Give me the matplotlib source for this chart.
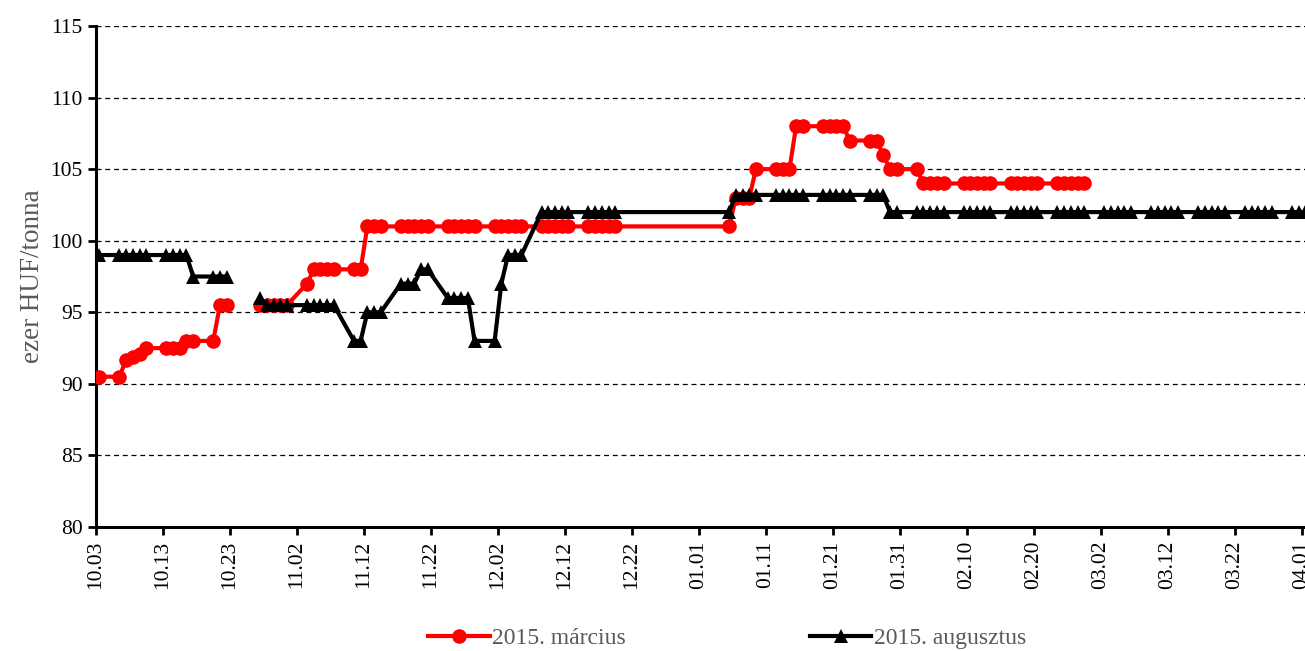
import matplotlib
matplotlib.use('Agg')
import matplotlib.pyplot as plt
import matplotlib.dates as mdates
import numpy as np
import pandas as pd
from matplotlib.lines import Line2D

plt.rcParams['font.family'] = ['Liberation Serif', 'DejaVu Serif']

# ---- data ----
marc_dates = [
    "2014-10-03", "2014-10-06", "2014-10-07", "2014-10-08", "2014-10-09", "2014-10-10",
    "2014-10-13", "2014-10-14", "2014-10-15", "2014-10-16", "2014-10-17",
    "2014-10-20", "2014-10-21", "2014-10-22", "2014-10-23",
    "2014-10-27", "2014-10-28", "2014-10-29", "2014-10-30", "2014-10-31",
    "2014-11-03", "2014-11-04", "2014-11-05", "2014-11-06", "2014-11-07",
    "2014-11-10", "2014-11-11", "2014-11-12", "2014-11-13", "2014-11-14",
    "2014-11-17", "2014-11-18", "2014-11-19", "2014-11-20", "2014-11-21",
    "2014-11-24", "2014-11-25", "2014-11-26", "2014-11-27", "2014-11-28",
    "2014-12-01", "2014-12-02", "2014-12-03", "2014-12-04", "2014-12-05",
    "2014-12-08", "2014-12-09", "2014-12-10", "2014-12-11", "2014-12-12",
    "2014-12-15", "2014-12-16", "2014-12-17", "2014-12-18", "2014-12-19",
    "2015-01-05", "2015-01-06", "2015-01-07", "2015-01-08", "2015-01-09",
    "2015-01-12", "2015-01-13", "2015-01-14", "2015-01-15", "2015-01-16",
    "2015-01-19", "2015-01-20", "2015-01-21", "2015-01-22", "2015-01-23",
    "2015-01-26", "2015-01-27", "2015-01-28", "2015-01-29", "2015-01-30",
    "2015-02-02", "2015-02-03", "2015-02-04", "2015-02-05", "2015-02-06",
    "2015-02-09", "2015-02-10", "2015-02-11", "2015-02-12", "2015-02-13",
    "2015-02-16", "2015-02-17", "2015-02-18", "2015-02-19", "2015-02-20",
    "2015-02-23", "2015-02-24", "2015-02-25", "2015-02-26", "2015-02-27",
]
marc_values = [
    90.5, 90.5, 91.7, 91.85, 92.1, 92.5,
    92.5, 92.5, 92.5, 93, 93,
    93, 95.5, 95.5, np.nan,
    95.5, 95.5, 95.5, 95.5, 95.5,
    97, 98, 98, 98, 98,
    98, 98, 101, 101, 101,
    101, 101, 101, 101, 101,
    101, 101, 101, 101, 101,
    101, 101, 101, 101, 101,
    101, 101, 101, 101, 101,
    101, 101, 101, 101, 101,
    101, 103, 103, 103, 105,
    105, 105, 105, 108, 108,
    108, 108, 108, 108, 107,
    107, 107, 106, 105, 105,
    105, 104, 104, 104, 104,
    104, 104, 104, 104, 104,
    104, 104, 104, 104, 104,
    104, 104, 104, 104, 104,
]

aug_dates = [
    "2014-10-03", "2014-10-06", "2014-10-07", "2014-10-08", "2014-10-09", "2014-10-10",
    "2014-10-13", "2014-10-14", "2014-10-15", "2014-10-16", "2014-10-17",
    "2014-10-20", "2014-10-21", "2014-10-22", "2014-10-23",
    "2014-10-27", "2014-10-28", "2014-10-29", "2014-10-30", "2014-10-31",
    "2014-11-03", "2014-11-04", "2014-11-05", "2014-11-06", "2014-11-07",
    "2014-11-10", "2014-11-11", "2014-11-12", "2014-11-13", "2014-11-14",
    "2014-11-17", "2014-11-18", "2014-11-19", "2014-11-20", "2014-11-21",
    "2014-11-24", "2014-11-25", "2014-11-26", "2014-11-27", "2014-11-28",
    "2014-12-01", "2014-12-02", "2014-12-03", "2014-12-04", "2014-12-05",
    "2014-12-08", "2014-12-09", "2014-12-10", "2014-12-11", "2014-12-12",
    "2014-12-15", "2014-12-16", "2014-12-17", "2014-12-18", "2014-12-19",
    "2015-01-05", "2015-01-06", "2015-01-07", "2015-01-08", "2015-01-09",
    "2015-01-12", "2015-01-13", "2015-01-14", "2015-01-15", "2015-01-16",
    "2015-01-19", "2015-01-20", "2015-01-21", "2015-01-22", "2015-01-23",
    "2015-01-26", "2015-01-27", "2015-01-28", "2015-01-29", "2015-01-30",
    "2015-02-02", "2015-02-03", "2015-02-04", "2015-02-05", "2015-02-06",
    "2015-02-09", "2015-02-10", "2015-02-11", "2015-02-12", "2015-02-13",
    "2015-02-16", "2015-02-17", "2015-02-18", "2015-02-19", "2015-02-20",
    "2015-02-23", "2015-02-24", "2015-02-25", "2015-02-26", "2015-02-27",
    "2015-03-02", "2015-03-03", "2015-03-04", "2015-03-05", "2015-03-06",
    "2015-03-09", "2015-03-10", "2015-03-11", "2015-03-12", "2015-03-13",
    "2015-03-16", "2015-03-17", "2015-03-18", "2015-03-19", "2015-03-20",
    "2015-03-23", "2015-03-24", "2015-03-25", "2015-03-26", "2015-03-27",
    "2015-03-30", "2015-03-31", "2015-04-01",
]
aug_values = [
    99, 99, 99, 99, 99, 99,
    99, 99, 99, 99, 97.5,
    97.5, 97.5, 97.5, np.nan,
    96, 95.5, 95.5, 95.5, 95.5,
    95.5, 95.5, 95.5, 95.5, 95.5,
    93, 93, 95, 95, 95,
    97, 97, 97, 98, 98,
    96, 96, 96, 96, 93,
    93, 97, 99, 99, 99,
    102, 102, 102, 102, 102,
    102, 102, 102, 102, 102,
    102, 103.2, 103.2, 103.2, 103.2,
    103.2, 103.2, 103.2, 103.2, 103.2,
    103.2, 103.2, 103.2, 103.2, 103.2,
    103.2, 103.2, 103.2, 102, 102,
    102, 102, 102, 102, 102,
    102, 102, 102, 102, 102,
    102, 102, 102, 102, 102,
    102, 102, 102, 102, 102,
    102, 102, 102, 102, 102,
    102, 102, 102, 102, 102,
    102, 102, 102, 102, 102,
    102, 102, 102, 102, 102,
    102, 102, 102,
]

series_labels = ["2015. március", "2015. augusztus"]
y_ticks = [80, 85, 90, 95, 100, 105, 110, 115]
y_label = "ezer HUF/tonna"
x_start = "2014-10-03"

# ---- figure ----
W, H = 1305, 651
fig = plt.figure(figsize=(W / 100, H / 100), dpi=100)
ax = fig.add_axes([96 / W, (H - 527) / H, (W - 96) / W, (527 - 26) / H])

start = pd.Timestamp(x_start)
half = pd.Timedelta(hours=12)
xm = pd.to_datetime(marc_dates) + half
xa = pd.to_datetime(aug_dates) + half

ax.plot(xm, marc_values, color='#ff0000', lw=3.0, marker='o', ms=10.5,
        markeredgewidth=0, solid_joinstyle='round', zorder=3)
ax.plot(xa, aug_values, color='#000000', lw=3.0, marker='^', ms=10.5,
        markeredgewidth=0, solid_joinstyle='round', zorder=4)

ax.set_ylim(80, 115)
ax.set_yticks(y_ticks)
ax.set_xlim(start, start + pd.Timedelta(days=180.45))
ticks = pd.date_range(start, periods=19, freq='10D')
ax.set_xticks(ticks)
ax.xaxis.set_major_formatter(mdates.DateFormatter('%m.%d'))
for lab in ax.get_xticklabels():
    lab.set_rotation(90)

ax.tick_params(axis='both', labelsize=15.5, direction='out', length=6, width=2,
               colors='black')
ax.tick_params(axis='x', pad=4)
ax.grid(axis='y', color='black', linestyle=(0, (4, 3)), linewidth=0.9)
ax.set_axisbelow(True)
for s in ['top', 'right']:
    ax.spines[s].set_visible(False)
for s in ['left', 'bottom']:
    ax.spines[s].set_linewidth(2.2)

ax.set_ylabel(y_label, fontsize=19.5, color='#595959', labelpad=4)

handles = [
    Line2D([], [], color='#ff0000', lw=3.0, marker='o', ms=10.5, markeredgewidth=0),
    Line2D([], [], color='#000000', lw=3.0, marker='^', ms=10.5, markeredgewidth=0),
]
leg = fig.legend(handles, series_labels, loc='center', ncol=2,
                 bbox_to_anchor=(727 / W, 1 - 638 / H), frameon=False,
                 fontsize=17, handlelength=2.6, handletextpad=0.1,
                 columnspacing=7.8, borderpad=0)
for t in leg.get_texts():
    t.set_color('#595959')

fig.savefig('out.png', dpi=100)
